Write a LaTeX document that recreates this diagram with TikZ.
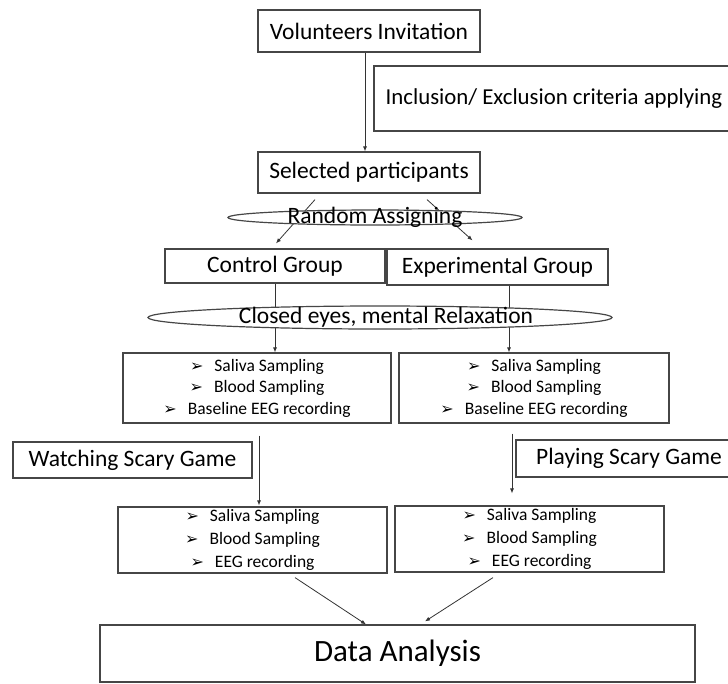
\documentclass[tikz,border=0pt]{standalone}
\usepackage{fontspec}
\setmainfont{Carlito}
\newfontfamily\arrowfont{DejaVu Sans}
\usepackage{xcolor}
\definecolor{boxgray}{RGB}{70, 70, 70}
\usetikzlibrary{calc,arrows.meta}

% one bullet line of a sampling box
\newcommand{\itm}[1]{{\arrowfont\fontsize{16}{16}\selectfont ➢}\hspace{11pt}#1}

\begin{document}
\begin{tikzpicture}[x=1pt, y=-1pt,
    stagebox/.style={draw=boxgray, line width=1.2pt, rectangle, inner sep=0pt,
        font=\fontsize{23.5}{28}\selectfont},
    samplebox/.style={draw=boxgray, line width=1.2pt, rectangle, inner sep=0pt,
        align=center, font=\fontsize{17.5}{21.5}\selectfont},
    arr/.style={-{Latex[length=5pt,width=4pt]}, line width=0.8pt, black!80},
    oval/.style={draw=boxgray, line width=1.2pt, fill=white}]
    \useasboundingbox (0,0) rectangle (728,683);

    % Recruitment
    \node[stagebox, minimum width=222, minimum height=42] (vol) at (369,31) {Volunteers Invitation};
    \node[stagebox, minimum width=360, minimum height=65, font=\fontsize{22.8}{28}\selectfont] (incl) at (554,98.5) {Inclusion/ Exclusion criteria applying};
    \node[stagebox, minimum width=222, minimum height=41] (sel) at (369,172.5) {Selected participants};
    \draw[arr] ([xshift=-4pt]vol.south) -- ([xshift=-4pt]sel.north);

    % Groups
    \node[stagebox, minimum width=220, minimum height=34] (ctl) at (275,266) {Control Group};
    \node[stagebox, minimum width=221, minimum height=36] (exp) at (497.5,267) {Experimental Group};
    \draw[arr] ([xshift=-54pt,yshift=-6pt]sel.south) -- ([xshift=1pt,yshift=5pt]ctl.north);
    \draw[arr] ([xshift=58pt,yshift=-6pt]sel.south) -- ([xshift=-25pt,yshift=8pt]exp.north);
    \draw[oval] (375,217.5) ellipse (147 and 7.5);
    \node[font=\fontsize{23.5}{28}\selectfont, inner sep=0pt] (rnd) at (375,217) {Random Assigning};

    % Baseline
    \node[samplebox, minimum width=268, minimum height=70] (u1) at (257,388)
        {\itm{Saliva Sampling}\\ \itm{Blood Sampling}\\ \itm{Baseline EEG recording}};
    \node[samplebox, minimum width=270, minimum height=70] (u2) at (534,388)
        {\itm{Saliva Sampling}\\ \itm{Blood Sampling}\\ \itm{Baseline EEG recording}};
    \draw[arr] (ctl.south) -- (ctl.south |- u1.north);
    \draw[arr] ([xshift=11.5pt]exp.south) -- ([xshift=11.5pt]exp.south |- u2.north);
    \draw[oval] (380,317.5) ellipse (232 and 11.5);
    \node[font=\fontsize{23.5}{28}\selectfont, inner sep=0pt] (relax) at (386,317.5) {Closed eyes, mental Relaxation};

    % Game sessions
    \node[stagebox, minimum width=239, minimum height=36] (watch) at (132.5,460) {Watching Scary Game};
    \node[stagebox, minimum width=226, minimum height=37] (play) at (629,458.5) {Playing Scary Game};

    \node[samplebox, minimum width=269, minimum height=66, font=\fontsize{17.5}{23}\selectfont] (l1) at (252.5,540)
        {\itm{Saliva Sampling}\\ \itm{Blood Sampling}\\ \itm{EEG recording}};
    \node[samplebox, minimum width=269, minimum height=66, font=\fontsize{17.5}{23}\selectfont] (l2) at (529.5,539)
        {\itm{Saliva Sampling}\\ \itm{Blood Sampling}\\ \itm{EEG recording}};
    \draw[arr] ([xshift=2pt,yshift=-12pt]u1.south) -- ([xshift=6.5pt,yshift=1pt]l1.north);
    \draw[arr] ([xshift=-22pt,yshift=-10pt]u2.south) -- ([xshift=-17.5pt,yshift=12pt]l2.north);

    % Analysis
    \node[stagebox, minimum width=595, minimum height=57, font=\fontsize{31}{36}\selectfont] (da) at (397.5,653.5) {Data Analysis};
    \draw[arr] ([xshift=42.5pt,yshift=-4pt]l1.south) -- ([xshift=-31.5pt]da.north);
    \draw[arr] ([xshift=-36.5pt,yshift=-5pt]l2.south) -- ([xshift=27.5pt,yshift=3pt]da.north);
\end{tikzpicture}
\end{document}
